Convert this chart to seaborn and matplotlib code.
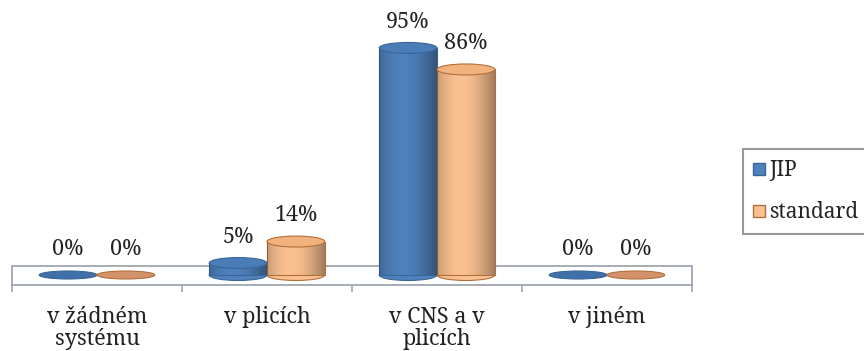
import matplotlib
matplotlib.use("Agg")
import matplotlib.pyplot as plt
import seaborn as sns
import pandas as pd
import numpy as np
from matplotlib.patches import Ellipse, Rectangle, Patch

categories = ["v žádném\nsystému", "v plicích", "v CNS a v\nplicích", "v jiném"]
series_names = ["JIP", "standard"]
jip_values = [0, 5, 95, 0]
standard_values = [0, 14, 86, 0]

colors = {"JIP": "#4f81bd", "standard": "#fac090"}
edges = {"JIP": "#3a6595", "standard": "#b0703c"}
tops = {"JIP": "#4a7cb8", "standard": "#f2b27e"}
flat = {"JIP": "#3f70aa", "standard": "#d4926a"}

df = pd.DataFrame({
    "category": categories * 2,
    "series": ["JIP"] * 4 + ["standard"] * 4,
    "value": jip_values + standard_values,
})

sns.set_theme(style="white")
FONT = ["Noto Serif", "Liberation Serif", "DejaVu Serif"]
plt.rcParams["font.family"] = FONT

fig = plt.figure(figsize=(8.64, 3.51), dpi=100)
ax_bottom_px, ax_top_px, zero_px = 285, 30, 275
ax = fig.add_axes([12 / 864, 1 - ax_bottom_px / 351, 680 / 864,
                   (ax_bottom_px - ax_top_px) / 351])

sns.barplot(data=df, x="category", y="value", hue="series", order=categories,
            hue_order=series_names, palette=colors, width=0.68, ax=ax,
            legend=False, saturation=1, zorder=3)

px_per_unit = 2.39
ylo = -(ax_bottom_px - zero_px) / px_per_unit
yhi = (zero_px - ax_top_px) / px_per_unit
ax.set_ylim(ylo, yhi)
ax.set_xlim(-0.5, 3.5)

bars = list(ax.patches)
ell_h = 11 / px_per_unit
flat_h = 8 / px_per_unit
order = [s for s in series_names for _ in categories]
for bar, s in zip(bars, order):
    x0 = bar.get_x()
    w = bar.get_width()
    h = bar.get_height()
    cx = x0 + w / 2
    bar.set_edgecolor(edges[s])
    bar.set_linewidth(0.8)
    if h <= 0:
        bar.set_visible(False)
        ax.add_patch(Ellipse((cx, 0), w, flat_h, facecolor=flat[s],
                             edgecolor=edges[s], lw=0.8, zorder=4))
    else:
        ax.add_patch(Ellipse((cx, 0), w, ell_h, facecolor=colors[s],
                             edgecolor=edges[s], lw=0.8, zorder=2.9))
        grad = np.linspace(0, 1, 64)
        shade = 0.35 * (1 - np.sin(np.pi * (0.15 + 0.85 * grad)))
        img = np.zeros((1, 64, 4))
        img[..., 3] = shade
        im = ax.imshow(img, extent=(x0, x0 + w, 0, h), aspect="auto", zorder=3.5,
                       interpolation="bilinear")
        im.set_clip_path(bar)
        ax.add_patch(Ellipse((cx, h), w, ell_h, facecolor=tops[s],
                             edgecolor=edges[s], lw=0.8, zorder=4))
    val = int(round(h))
    ax.annotate(f"{val}%", (cx, h), xytext=(0, 19), textcoords="offset points",
                ha="center", va="center", fontsize=15.5, color="#222222", zorder=6,
                family=FONT)

# floor
floor_top = (zero_px - 266) / px_per_unit
ax.add_patch(Rectangle((-0.5, ylo), 4, floor_top - ylo,
                       facecolor="white", edgecolor="#9ea6b0", lw=1.3, zorder=1,
                       clip_on=False))
ax.set_xlim(-0.5, 3.5)
ax.set_ylim(ylo, yhi)

for sp in ax.spines.values():
    sp.set_visible(False)
ax.set_yticks([])
ax.set_xlabel("")
ax.set_ylabel("")
ax.set_xticks(range(4))
ax.set_xticklabels(categories, fontsize=15.5, color="#222222", linespacing=1.0,
                   family=FONT)
ax.tick_params(axis="x", which="major", length=0, pad=15)
ax.set_xticks([-0.5, 0.5, 1.5, 2.5, 3.5], minor=True)
ax.tick_params(axis="x", which="minor", length=5, width=1.2, color="#9ea6b0", bottom=True)

handles = [Patch(facecolor=colors[s], edgecolor=edges[s], label=s) for s in series_names]
leg = fig.legend(handles=handles, loc="upper left", bbox_to_anchor=(743 / 864, 1 - 149 / 351),
                 frameon=True, handlelength=0.55, handleheight=0.55,
                 handletextpad=0.2, labelspacing=0.95, borderpad=0.5, borderaxespad=0,
                 fancybox=False, prop={"family": FONT, "size": 15})
leg.get_frame().set_edgecolor("#808080")
leg.get_frame().set_linewidth(1.5)

fig.savefig("out.png", dpi=100)
